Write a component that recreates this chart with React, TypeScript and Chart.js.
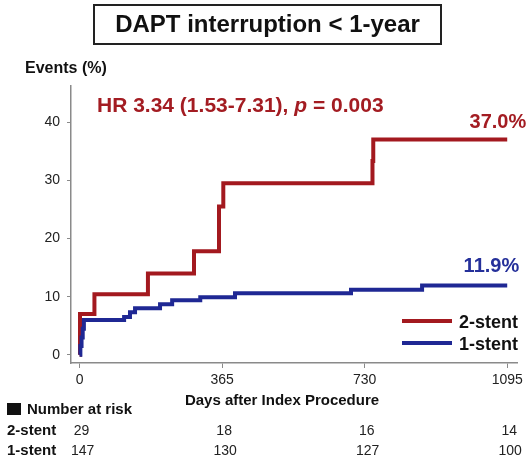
import React, { useEffect, useRef } from "react";
import { Chart, registerables } from "chart.js";

Chart.register(...registerables);

const FONT = '"Liberation Sans", Arial, Helvetica, sans-serif';
const RED = "#a3191f";
const BLUE = "#1f2894";

const titleText = "DAPT interruption < 1-year";
const yAxisTitle = "Events (%)";
const xAxisTitle = "Days after Index Procedure";
const hrPrefix = "HR 3.34 (1.53-7.31), ";
const hrP = "p";
const hrSuffix = " = 0.003";

const seriesLabels = ["2-stent", "1-stent"];

const twoStentDays = [0, 1, 38, 175, 293, 357, 357, 368, 750, 752, 1095];
const twoStentEvents = [0, 7.0, 10.4, 14.0, 17.8, 21.5, 25.5, 29.5, 33.3, 37.0, 37.0];

const oneStentDays = [0, 2, 5, 8, 11, 114, 129, 142, 206, 237, 309, 398, 695, 877, 1095];
const oneStentEvents = [0, 1.5, 3.0, 4.5, 6.0, 6.5, 7.3, 8.0, 8.7, 9.4, 9.9, 10.6, 11.2, 11.9, 11.9];

const endLabels = ["37.0%", "11.9%"];

const xTicks = [0, 365, 730, 1095];
const yTicks = [0, 10, 20, 30, 40];

const riskHeader = "Number at risk";
const riskTwoStent = [29, 18, 16, 14];
const riskOneStent = [147, 130, 127, 100];

const overlayPlugin = {
  id: "overlay",
  afterDraw(chart: any) {
    const ctx = chart.ctx;
    const xs = chart.scales.x;
    const ys = chart.scales.y;
    ctx.save();
    ctx.textBaseline = "alphabetic";

    // y-axis title
    ctx.fillStyle = "#111";
    ctx.font = `bold 16px ${FONT}`;
    ctx.textAlign = "left";
    ctx.fillText(yAxisTitle, 25, 73);

    // HR text
    ctx.fillStyle = "#a31c22";
    ctx.font = `bold 21px ${FONT}`;
    let x = 97;
    ctx.fillText(hrPrefix, x, 112);
    x += ctx.measureText(hrPrefix).width;
    ctx.font = `italic bold 21px ${FONT}`;
    ctx.fillText(hrP, x, 112);
    x += ctx.measureText(hrP).width;
    ctx.font = `bold 21px ${FONT}`;
    ctx.fillText(hrSuffix, x, 112);

    // end labels
    ctx.font = `bold 20px ${FONT}`;
    ctx.textAlign = "right";
    const lastRed = twoStentEvents[twoStentEvents.length - 1];
    const lastBlue = oneStentEvents[oneStentEvents.length - 1];
    const endX = xs.getPixelForValue(twoStentDays[twoStentDays.length - 1]);
    ctx.fillStyle = "#a31c22";
    ctx.fillText(endLabels[0], endX + 19, ys.getPixelForValue(lastRed) - 12);
    ctx.fillStyle = "#25309a";
    ctx.fillText(endLabels[1], endX + 12, ys.getPixelForValue(lastBlue) - 14);

    // legend
    const legendColors = [RED, BLUE];
    const legendY = [321, 343];
    ctx.lineWidth = 4;
    ctx.font = `bold 18px ${FONT}`;
    ctx.textAlign = "left";
    for (let i = 0; i < 2; i++) {
      ctx.strokeStyle = legendColors[i];
      ctx.beginPath();
      ctx.moveTo(402, legendY[i]);
      ctx.lineTo(452, legendY[i]);
      ctx.stroke();
      ctx.fillStyle = "#111";
      ctx.fillText(seriesLabels[i], 459, legendY[i] + 7);
    }

    // x-axis title
    ctx.font = `bold 15px ${FONT}`;
    ctx.textAlign = "center";
    ctx.fillStyle = "#111";
    ctx.fillText(xAxisTitle, 282, 405);

    // number at risk
    ctx.fillRect(7, 403, 14, 12);
    ctx.textAlign = "left";
    ctx.fillText(riskHeader, 27, 414);
    ctx.fillText(seriesLabels[0], 7, 435);
    ctx.fillText(seriesLabels[1], 7, 455);
    ctx.font = `14px ${FONT}`;
    ctx.textAlign = "center";
    ctx.fillStyle = "#222";
    for (let i = 0; i < xTicks.length; i++) {
      const px = xs.getPixelForValue(xTicks[i]);
      ctx.fillText(String(riskTwoStent[i]), px + 2, 435);
      ctx.fillText(String(riskOneStent[i]), px + 3, 455);
    }
    ctx.restore();
  },
};

export default function App() {
  const ref = useRef<HTMLCanvasElement | null>(null);
  useEffect(() => {
    if (!ref.current) return;
    const chart = new Chart(ref.current, {
      type: "line",
      data: {
        datasets: [
          {
            label: seriesLabels[1],
            data: oneStentDays.map((d, i) => ({ x: d, y: oneStentEvents[i] })),
            borderColor: BLUE,
            borderWidth: 4,
            pointRadius: 0,
            stepped: "before",
            fill: false,
            borderCapStyle: "butt",
            borderJoinStyle: "miter",
          },
          {
            label: seriesLabels[0],
            data: twoStentDays.map((d, i) => ({ x: d, y: twoStentEvents[i] })),
            borderColor: RED,
            borderWidth: 4,
            pointRadius: 0,
            stepped: "before",
            fill: false,
            borderCapStyle: "butt",
            borderJoinStyle: "miter",
          },
        ],
      },
      options: {
        animation: false,
        responsive: false,
        devicePixelRatio: 1,
        layout: { padding: { left: 0, top: 86, right: 9, bottom: 0 } },
        plugins: {
          legend: { display: false },
          tooltip: { enabled: false },
          title: { display: false },
        },
        scales: {
          x: {
            type: "linear",
            min: -22,
            max: 1122,
            afterBuildTicks: (s: any) => {
              s.ticks = xTicks.map((v) => ({ value: v }));
            },
            afterFit: (s: any) => {
              s.height = 99;
            },
            ticks: {
              autoSkip: false,
              maxRotation: 0,
              padding: 4,
              color: "#222",
              font: { family: FONT, size: 14 },
              callback: (v: any) => String(v),
            },
            grid: {
              display: true,
              drawOnChartArea: false,
              drawTicks: true,
              tickLength: 5,
              color: "#8a8a8a",
              lineWidth: 1,
            },
            border: { display: true, color: "#8a8a8a", width: 1.5 },
          },
          y: {
            type: "linear",
            min: -1.4,
            max: 46.2,
            afterBuildTicks: (s: any) => {
              s.ticks = yTicks.map((v) => ({ value: v }));
            },
            afterFit: (s: any) => {
              s.width = 71;
            },
            ticks: {
              autoSkip: false,
              padding: 7,
              color: "#222",
              font: { family: FONT, size: 14 },
              callback: (v: any) => String(v),
            },
            grid: {
              display: true,
              drawOnChartArea: false,
              drawTicks: true,
              tickLength: 4,
              color: "#8a8a8a",
              lineWidth: 1,
            },
            border: { display: true, color: "#8a8a8a", width: 1.5 },
          },
        },
      },
      plugins: [overlayPlugin],
    } as any);
    return () => chart.destroy();
  }, []);

  return (
    <div style={{ position: "absolute", left: 0, top: 0, width: 527, height: 462, background: "#fff" }}>
      <canvas ref={ref} width={527} height={462} style={{ position: "absolute", left: 0, top: 0 }} />
      <div
        style={{
          position: "absolute",
          left: 93,
          top: 4,
          width: 349,
          height: 41,
          boxSizing: "border-box",
          border: "2px solid #222",
          fontFamily: FONT,
          fontWeight: "bold",
          fontSize: 24,
          lineHeight: "36px",
          textAlign: "center",
          color: "#111",
          whiteSpace: "pre",
        }}
      >
        {titleText}
      </div>
    </div>
  );
}
